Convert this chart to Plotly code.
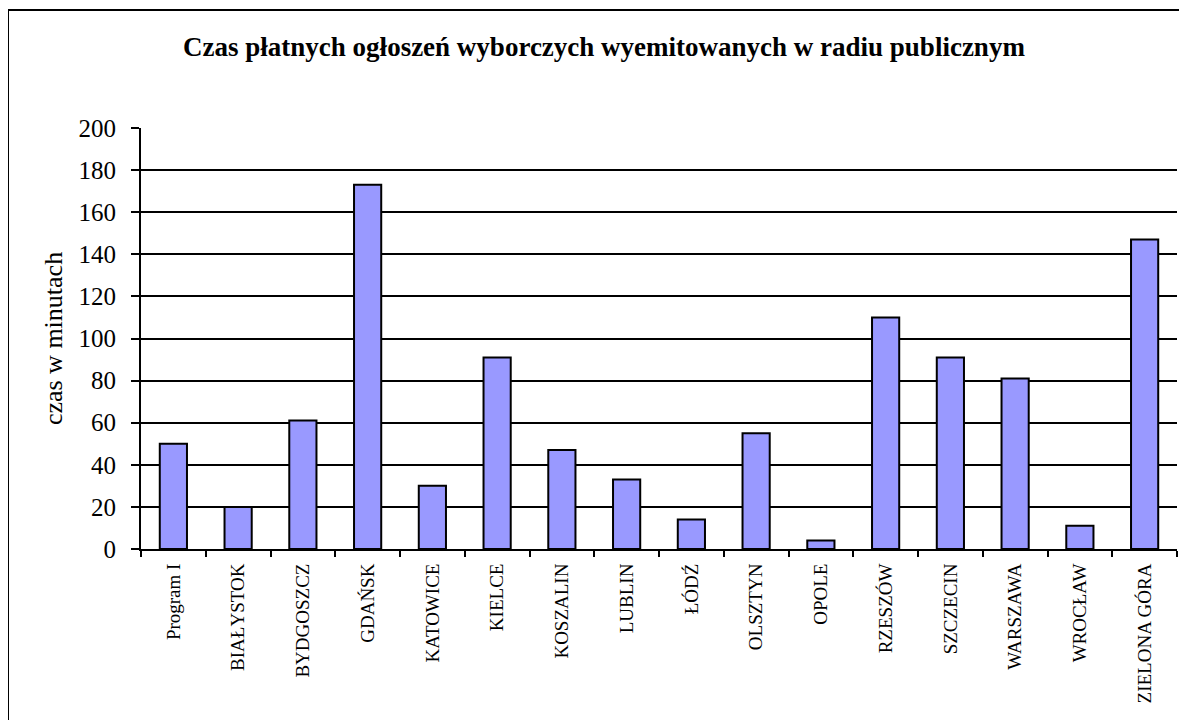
"""Czas płatnych ogłoszeń wyborczych - radio publiczne"""
import plotly.graph_objects as go

regions = [
    "Program I", "BIAŁYSTOK", "BYDGOSZCZ", "GDAŃSK", "KATOWICE", "KIELCE",
    "KOSZALIN", "LUBLIN", "ŁÓDŹ", "OLSZTYN", "OPOLE", "RZESZÓW",
    "SZCZECIN", "WARSZAWA", "WROCŁAW", "ZIELONA GÓRA",
]
minutes = [50, 20, 61, 173, 30, 91, 47, 33, 14, 55, 4, 110, 91, 81, 11, 147]
y_ticks = list(range(0, 201, 20))

serif = "Liberation Serif, Times New Roman, serif"

fig = go.Figure()
fig.add_trace(
    go.Bar(
        x=regions,
        y=minutes,
        width=0.42,
        marker=dict(color="#9999FF", line=dict(color="black", width=2)),
    )
)

# page body has an 8px margin, so the plot sits 8px right/down of the div
fig.update_layout(
    width=1187,
    height=720,
    margin=dict(l=133, r=18, t=120, b=179, autoexpand=False),
    paper_bgcolor="white",
    plot_bgcolor="white",
    showlegend=False,
    font=dict(family=serif, color="black"),
    title=dict(
        text="<b>Czas płatnych ogłoszeń wyborczych wyemitowanych w radiu publicznym</b>",
        x=596 / 1187, xref="container", xanchor="center",
        y=1 - 39 / 720, yref="container", yanchor="middle",
        font=dict(size=27, family=serif),
    ),
    xaxis=dict(
        showline=True, linecolor="black", linewidth=2,
        ticks="outside", ticklen=6, tickwidth=2, tickcolor="black",
        tickson="boundaries",
        tickangle=-90,
        ticklabelstandoff=5,
        tickfont=dict(size=19, family=serif),
        showgrid=False,
    ),
    yaxis=dict(
        range=[0, 200],
        tickvals=y_ticks,
        showline=True, linecolor="black", linewidth=2,
        ticks="outside", ticklen=8, tickwidth=2, tickcolor="black",
        ticklabelstandoff=10,
        tickfont=dict(size=25, family=serif),
        showgrid=True, gridcolor="black", gridwidth=2,
        zeroline=False,
        title=dict(text="czas w minutach", font=dict(size=26, family=serif), standoff=8),
    ),
    shapes=[
        dict(
            type="rect", xref="paper", yref="paper",
            x0=-133 / 1036, x1=1.03, y0=-0.5, y1=1 + 118 / 421,
            line=dict(color="black", width=2), fillcolor="rgba(0,0,0,0)",
            layer="below",
        )
    ],
)

fig.write_html("out.html")
